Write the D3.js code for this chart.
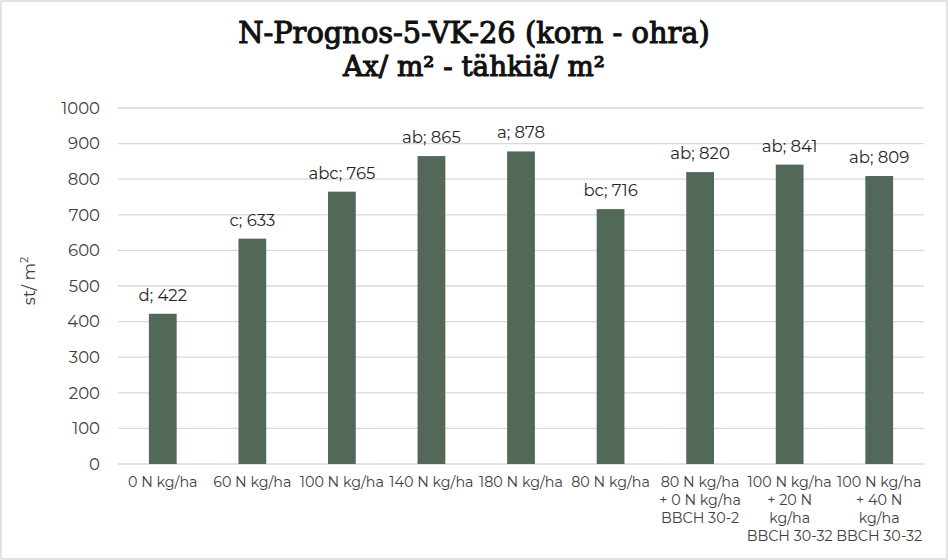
<!DOCTYPE html>
<html><head><meta charset="utf-8">
<script src="https://cdn.jsdelivr.net/npm/d3@7"></script>
<style>
html,body{margin:0;padding:0;background:#fff;}
svg{display:block;}
</style></head>
<body>
<svg id="chart" width="948" height="560"></svg>
<script>
const categories = ["0 N kg/ha","60 N kg/ha","100 N kg/ha","140 N kg/ha","180 N kg/ha","80 N kg/ha","80 N kg/ha\n+ 0 N kg/ha\nBBCH 30-2","100 N kg/ha\n+ 20 N\nkg/ha\nBBCH 30-32","100 N kg/ha\n+ 40 N\nkg/ha\nBBCH 30-32"];
const values = [422,633,765,865,878,716,820,841,809];
const letters = ["d","c","abc","ab","a","bc","ab","ab","ab"];
const yTicks = [0,100,200,300,400,500,600,700,800,900,1000];
const titleLines = ["N-Prognos-5-VK-26 (korn - ohra)","Ax/ m² - tähkiä/ m²"];

const svg = d3.select("#chart");
const W = 948, H = 560;
const m = {left:118, right:24, top:108, bottom:96};
const sans = "Montserrat, 'DejaVu Sans', sans-serif";

svg.append("rect").attr("x",1).attr("y",1).attr("width",W-2).attr("height",H-2)
  .attr("fill","#fff").attr("stroke","#d9d9d9").attr("stroke-width",1.5);

const x = d3.scaleBand().domain(categories).range([m.left, W-m.right]).paddingInner(0.69).paddingOuter(0.345);
const y = d3.scaleLinear().domain([0,1000]).range([H-m.bottom, m.top]);

// gridlines
svg.append("g").selectAll("line").data(yTicks).join("line")
  .attr("x1",m.left).attr("x2",W-m.right)
  .attr("y1",d=>y(d)).attr("y2",d=>y(d))
  .attr("stroke","#d9d9d9").attr("stroke-width",1.3);

// y axis
const yAxis = svg.append("g").attr("transform",`translate(${m.left},0)`)
  .call(d3.axisLeft(y).tickValues(yTicks).tickFormat(d3.format("d")).tickSize(0).tickPadding(18));
yAxis.select(".domain").remove();
yAxis.selectAll("text").attr("font-family",sans).attr("font-size",16.5).attr("fill","#404040");

// bars
svg.append("g").selectAll("rect").data(values).join("rect")
  .attr("x",(d,i)=>x(categories[i])).attr("width",x.bandwidth())
  .attr("y",d=>y(d)).attr("height",d=>y(0)-y(d))
  .attr("fill","#52695a");

// data labels
svg.append("g").selectAll("text").data(values).join("text")
  .attr("x",(d,i)=>x(categories[i])+x.bandwidth()/2)
  .attr("y",d=>y(d)-13)
  .attr("text-anchor","middle").attr("font-family",sans).attr("font-size",16.5).attr("fill","#262626")
  .text((d,i)=>letters[i]+"; "+d);

// x axis labels
const xl = svg.append("g");
categories.forEach(c=>{
  const t = xl.append("text").attr("x",x(c)+x.bandwidth()/2).attr("y",487)
    .attr("text-anchor","middle").attr("font-family",sans).attr("font-size",14.3).attr("fill","#404040");
  c.split("\n").forEach((ln,j)=>{
    t.append("tspan").attr("x",x(c)+x.bandwidth()/2).attr("dy",j===0?0:18).text(ln);
  });
});

// y axis title
svg.append("text").attr("transform",`translate(35,${281}) rotate(-90)`)
  .attr("text-anchor","middle").attr("font-family",sans).attr("font-size",16.5).attr("fill","#404040")
  .html('st/ m<tspan dy="-7" font-size="11">2</tspan>');

// title
const serif = "'DejaVu Serif',serif";
const targetW = [472, 262];
titleLines.forEach((ln,i)=>{
  const t = svg.append("text").attr("x",W/2).attr("y",i===0?43:76).attr("text-anchor","middle")
    .attr("font-family",serif).attr("font-size",26).attr("font-weight","normal").attr("fill","#111")
    .attr("stroke","#111").attr("stroke-width",1.1)
    .text(ln);
  const w = t.node().getComputedTextLength();
  t.attr("font-size", 26*targetW[i]/w);
});
</script>
</body></html>
